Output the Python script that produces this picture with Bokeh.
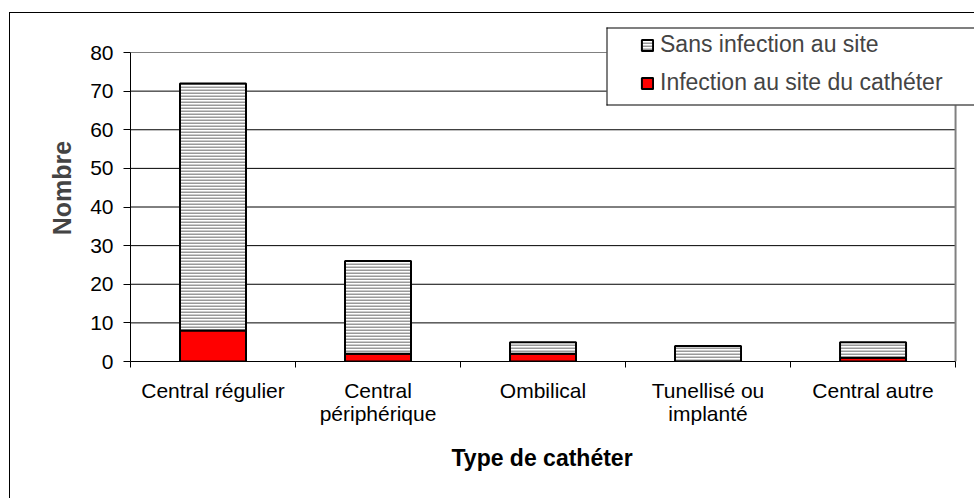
from bokeh.plotting import figure
from bokeh.models import (FixedTicker, Legend, LegendItem, Title, BoxAnnotation,
                          ColumnDataSource, Range1d)
from bokeh.embed import file_html
from bokeh.resources import INLINE

categories = ["Central régulier", "Central\npériphérique", "Ombilical",
              "Tunellisé ou\nimplanté", "Central autre"]
infection = [8, 2, 2, 0, 1]
sans_infection = [64, 24, 3, 4, 4]
y_ticks = [0, 10, 20, 30, 40, 50, 60, 70, 80]
legend_labels = ["Sans infection au site", "Infection au site du cathéter"]
x_title = "Type de cathéter"
y_title = "Nombre"

FONT = "Liberation Sans"

n = len(categories)
ymax = y_ticks[-1]
xs = [i + 0.5 for i in range(n)]
source = ColumnDataSource(dict(x=xs, inf=infection, sans=sans_infection))

# layout (pixels): plot area spans 827 px for the 5 categories and 309 px for 0..80;
# the frame is extended right/up so the legend box is not clipped.
PX_X = 827 / n
PX_Y = 309 / ymax
p = figure(width=965, height=486, output_backend="svg", toolbar_location=None,
           x_range=Range1d(0, n + 20 / PX_X), y_range=Range1d(0, ymax + 38 / PX_Y),
           min_border_left=120, min_border_right=0, min_border_top=1,
           min_border_bottom=138)
p.margin = (12, 0, 0, 9)
p.styles = {"border-left": "1px solid black", "border-top": "1px solid black"}
p.outline_line_color = None
p.background_fill_color = "white"
p.border_fill_color = "white"
p.xgrid.grid_line_color = None
p.ygrid.grid_line_color = None

# horizontal grid lines limited to the plot area
p.segment(x0=0, x1=n, y0=y_ticks[1:-1], y1=y_ticks[1:-1], line_color="black", line_width=1)
# plot-area border (gray): top and right
p.segment(x0=[0], x1=[n], y0=[ymax], y1=[ymax], line_color="#808080", line_width=1)
p.segment(x0=[n], x1=[n], y0=[0], y1=[ymax], line_color="#808080", line_width=2)

renderers = p.vbar_stack(["inf", "sans"], x="x", width=0.4, source=source,
                         fill_color=["#FF0000", "white"], line_color="black",
                         line_width=2,
                         hatch_pattern=[" ", "horizontal_line"],
                         hatch_color="#999999", hatch_scale=3, hatch_weight=2)

# y axis
p.yaxis.ticker = FixedTicker(ticks=y_ticks)
p.yaxis.bounds = (0, ymax)
p.yaxis.axis_label = y_title
p.yaxis.axis_label_text_font = FONT
p.yaxis.axis_label_text_font_style = "bold"
p.yaxis.axis_label_text_font_size = "25px"
p.yaxis.axis_label_standoff = 11
p.yaxis.major_label_text_font = FONT
p.yaxis.major_label_text_font_size = "21px"
p.yaxis.major_label_text_color = "black"
p.yaxis.major_label_standoff = 10
p.yaxis.major_tick_out = 7
p.yaxis.major_tick_in = 0
p.yaxis.minor_tick_line_color = None
p.yaxis.axis_line_color = "black"
p.yaxis.major_tick_line_color = "black"

# x axis
p.xaxis.ticker = FixedTicker(ticks=xs, minor_ticks=list(range(n + 1)))
p.xaxis.bounds = (0, n)
p.xaxis.major_label_overrides = {x: c for x, c in zip(xs, categories)}
p.xaxis.major_tick_line_color = None
p.xaxis.minor_tick_line_color = "black"
p.xaxis.minor_tick_out = 6
p.xaxis.minor_tick_in = 0
p.xaxis.major_label_text_font = FONT
p.xaxis.major_label_text_font_size = "21px"
p.xaxis.major_label_text_color = "black"
p.xaxis.major_label_text_line_height = 1.0
p.xaxis.major_label_standoff = 11
p.xaxis.axis_line_color = "black"

# x-axis title centred under the plot area (not under the extended frame)
p.add_layout(Title(text=x_title, align="left", offset=321,
                   text_font=FONT, text_font_style="bold", text_font_size="23px",
                   text_color="black", standoff=31), "below")

# legend frame: white box, with only its left, top and bottom edges drawn
# (its right edge lies beyond the picture, as in the reference)
def canvas_box(left, right, top, bottom, color):
    return BoxAnnotation(left=left, right=right, top=top, bottom=bottom,
                         left_units="canvas", right_units="canvas",
                         top_units="canvas", bottom_units="canvas",
                         fill_color=color, fill_alpha=1, line_color=None)

p.add_layout(canvas_box(595, 2000, 13, 91, "white"))
p.add_layout(canvas_box(595, 2000, 13, 14, "black"))
p.add_layout(canvas_box(595, 2000, 90, 91, "black"))
p.add_layout(canvas_box(595, 596, 13, 91, "black"))

legend = Legend(items=[LegendItem(label=legend_labels[0], renderers=[renderers[1]]),
                       LegendItem(label=legend_labels[1], renderers=[renderers[0]])],
                location=(510, 265), orientation="vertical",
                border_line_color=None, background_fill_alpha=0,
                label_text_font=FONT, label_text_font_size="23px",
                glyph_width=14, glyph_height=14, label_standoff=6,
                spacing=11, padding=0, margin=0)
p.add_layout(legend)

open("out.html", "w").write(file_html(p, INLINE))
